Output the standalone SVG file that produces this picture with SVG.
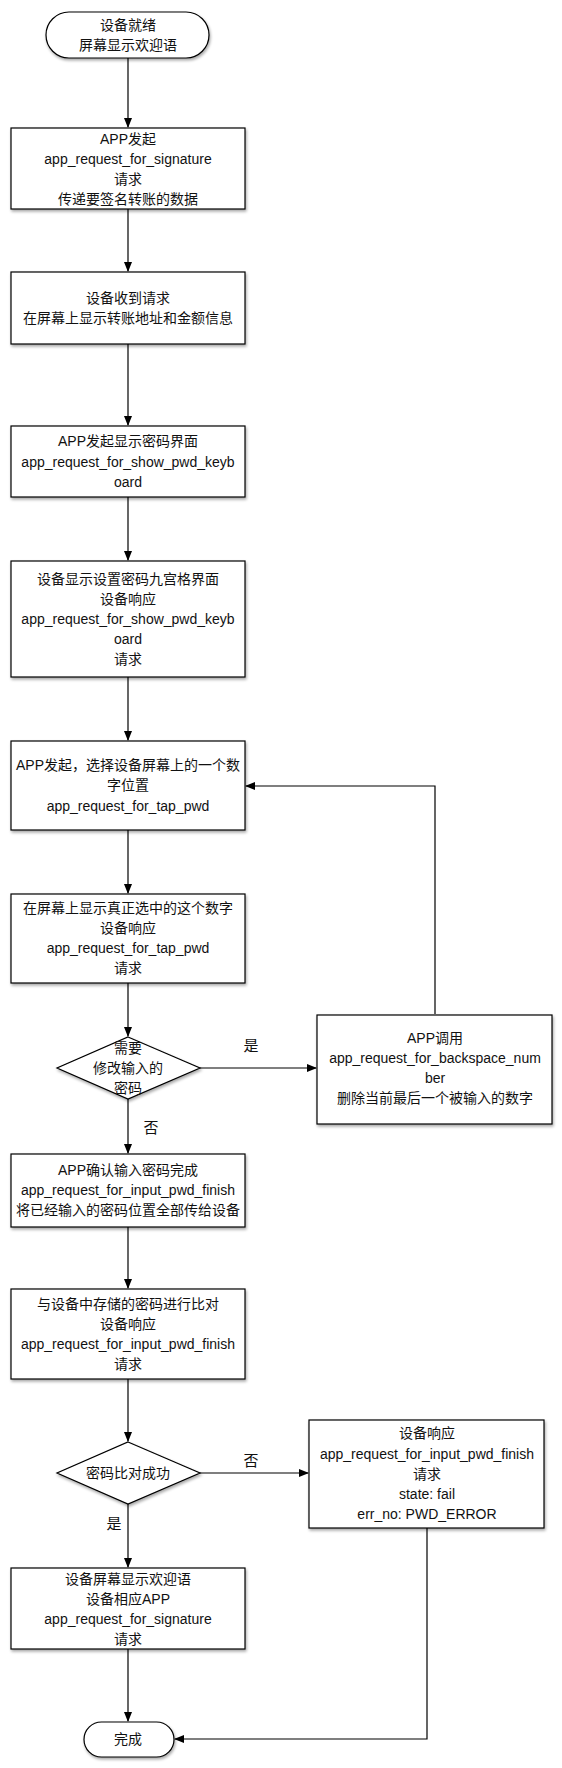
<svg xmlns="http://www.w3.org/2000/svg" width="562" height="1768" viewBox="0 0 562 1768">
<style>
.n{fill:#fff;stroke:#000;stroke-width:1.2;filter:url(#sh)}
.t{font-family:"Liberation Sans","Noto Sans CJK SC",sans-serif;font-size:14px;fill:#111;text-anchor:middle;dominant-baseline:central}
.l{font-family:"Liberation Sans","Noto Sans CJK SC",sans-serif;font-size:15px;fill:#111;text-anchor:middle;dominant-baseline:central}
.c{fill:none;stroke:#000;stroke-width:1.2;marker-end:url(#ah)}
</style>
<defs>
<filter id="sh" x="-10%" y="-10%" width="130%" height="130%">
<feGaussianBlur in="SourceAlpha" stdDeviation="1.5"/>
<feOffset dx="1" dy="2" result="b"/>
<feComponentTransfer><feFuncA type="linear" slope="0.35"/></feComponentTransfer>
<feMerge><feMergeNode/><feMergeNode in="SourceGraphic"/></feMerge>
</filter>
<marker id="ah" markerWidth="10" markerHeight="8" refX="9" refY="4" orient="auto" markerUnits="userSpaceOnUse">
<path d="M0,0 L10,4 L0,8 Z" fill="#000"/>
</marker>
</defs>
<rect width="562" height="1768" fill="#fff"/>

<g id="connectors">
<path class="c" d="M128,58 V127"/>
<path class="c" d="M128,209 V271"/>
<path class="c" d="M128,344 V425"/>
<path class="c" d="M128,497 V560"/>
<path class="c" d="M128,677 V740"/>
<path class="c" d="M128,830 V893"/>
<path class="c" d="M128,983 V1036"/>
<path class="c" d="M200,1068 H316"/>
<path class="c" d="M435,1014 V786 H246"/>
<path class="c" d="M128,1099 V1153"/>
<path class="c" d="M128,1227 V1288"/>
<path class="c" d="M128,1379 V1441"/>
<path class="c" d="M200,1473 H308"/>
<path class="c" d="M128,1504 V1567"/>
<path class="c" d="M128,1649 V1721"/>
<path class="c" d="M427,1528 V1739 H175"/>
<text class="l" x="251" y="1045">是</text>
<text class="l" x="151" y="1127">否</text>
<text class="l" x="251" y="1460">否</text>
<text class="l" x="114" y="1523">是</text>
</g>

<g id="start">
<rect class="n" x="46" y="12" width="163" height="46" rx="23" ry="23"/>
<text class="t" x="128" y="25">设备就绪</text>
<text class="t" x="128" y="45">屏幕显示欢迎语</text>
</g>

<g id="box1">
<rect class="n" x="11" y="128" width="234" height="81"/>
<text class="t" x="128" y="139">APP发起</text>
<text class="t" x="128" y="159">app_request_for_signature</text>
<text class="t" x="128" y="179">请求</text>
<text class="t" x="128" y="199">传递要签名转账的数据</text>
</g>

<g id="box2">
<rect class="n" x="11" y="272" width="234" height="72"/>
<text class="t" x="128" y="298">设备收到请求</text>
<text class="t" x="128" y="318">在屏幕上显示转账地址和金额信息</text>
</g>

<g id="box3">
<rect class="n" x="11" y="426" width="234" height="71"/>
<text class="t" x="128" y="441">APP发起显示密码界面</text>
<text class="t" x="128" y="462">app_request_for_show_pwd_keyb</text>
<text class="t" x="128" y="482">oard</text>
</g>

<g id="box4">
<rect class="n" x="11" y="561" width="234" height="116"/>
<text class="t" x="128" y="579">设备显示设置密码九宫格界面</text>
<text class="t" x="128" y="599">设备响应</text>
<text class="t" x="128" y="619">app_request_for_show_pwd_keyb</text>
<text class="t" x="128" y="639">oard</text>
<text class="t" x="128" y="659">请求</text>
</g>

<g id="box5">
<rect class="n" x="11" y="741" width="234" height="89"/>
<text class="t" x="128" y="765">APP发起，选择设备屏幕上的一个数</text>
<text class="t" x="128" y="785">字位置</text>
<text class="t" x="128" y="806">app_request_for_tap_pwd</text>
</g>

<g id="box6">
<rect class="n" x="11" y="894" width="234" height="89"/>
<text class="t" x="128" y="908">在屏幕上显示真正选中的这个数字</text>
<text class="t" x="128" y="928">设备响应</text>
<text class="t" x="128" y="948">app_request_for_tap_pwd</text>
<text class="t" x="128" y="968">请求</text>
</g>

<g id="decision1">
<polygon class="n" points="128,1037 200,1068 128,1099 57,1068"/>
<text class="t" x="128" y="1048">需要</text>
<text class="t" x="128" y="1068">修改输入的</text>
<text class="t" x="128" y="1088">密码</text>
</g>

<g id="backspace">
<rect class="n" x="317" y="1015" width="235" height="109"/>
<text class="t" x="435" y="1038">APP调用</text>
<text class="t" x="435" y="1058">app_request_for_backspace_num</text>
<text class="t" x="435" y="1078">ber</text>
<text class="t" x="435" y="1098">删除当前最后一个被输入的数字</text>
</g>

<g id="box7">
<rect class="n" x="11" y="1154" width="234" height="73"/>
<text class="t" x="128" y="1170">APP确认输入密码完成</text>
<text class="t" x="128" y="1190">app_request_for_input_pwd_finish</text>
<text class="t" x="128" y="1210">将已经输入的密码位置全部传给设备</text>
</g>

<g id="box8">
<rect class="n" x="11" y="1289" width="234" height="90"/>
<text class="t" x="128" y="1304">与设备中存储的密码进行比对</text>
<text class="t" x="128" y="1324">设备响应</text>
<text class="t" x="128" y="1344">app_request_for_input_pwd_finish</text>
<text class="t" x="128" y="1364">请求</text>
</g>

<g id="decision2">
<polygon class="n" points="128,1442 200,1473 128,1504 57,1473"/>
<text class="t" x="128" y="1473">密码比对成功</text>
</g>

<g id="fail">
<rect class="n" x="309" y="1420" width="235" height="108"/>
<text class="t" x="427" y="1433">设备响应</text>
<text class="t" x="427" y="1454">app_request_for_input_pwd_finish</text>
<text class="t" x="427" y="1474">请求</text>
<text class="t" x="427" y="1494">state: fail</text>
<text class="t" x="427" y="1514">err_no: PWD_ERROR</text>
</g>

<g id="box9">
<rect class="n" x="11" y="1568" width="234" height="81"/>
<text class="t" x="128" y="1579">设备屏幕显示欢迎语</text>
<text class="t" x="128" y="1599">设备相应APP</text>
<text class="t" x="128" y="1619">app_request_for_signature</text>
<text class="t" x="128" y="1639">请求</text>
</g>

<g id="end">
<rect class="n" x="84" y="1722" width="90" height="35" rx="17.5" ry="17.5"/>
<text class="t" x="128" y="1739">完成</text>
</g>
</svg>
